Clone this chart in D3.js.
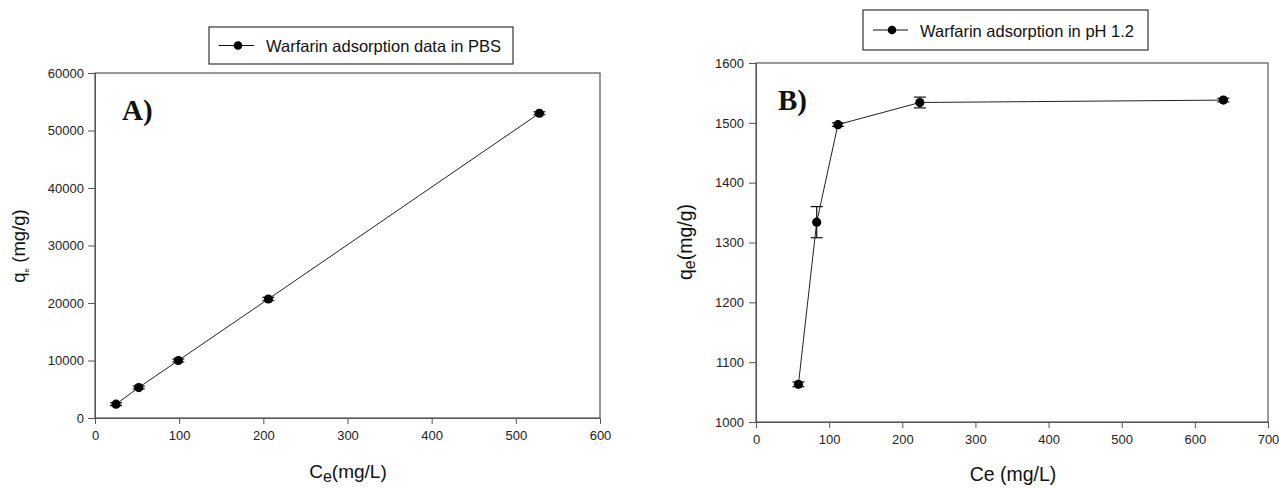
<!doctype html>
<html>
<head>
<script src="https://cdnjs.cloudflare.com/ajax/libs/d3/7.8.5/d3.min.js"></script>
<style>
  body { margin: 0; background: #fff; }
  svg { display: block; }
  .tick text { font-family: Arial, "Liberation Sans", sans-serif; font-size: 13px; fill: #222; }
  .lbl { font-family: Arial, "Liberation Sans", sans-serif; fill: #111; }
</style>
</head>
<body>
<svg id="chart" width="1279" height="488"></svg>
<script>
// panel A - PBS
var ceA = [25, 52, 99, 206, 528];
var qeA = [2400, 5300, 10000, 20700, 53000];
var errA = [250, 250, 250, 300, 250];
var xTicksA = [0, 100, 200, 300, 400, 500, 600];
var yTicksA = [0, 10000, 20000, 30000, 40000, 50000, 60000];

// panel B - pH 1.2
var ceB = [58, 83, 112, 224, 639];
var qeB = [1063, 1334, 1497, 1534, 1538];
var errB = [4, 26, 3, 9, 3];
var xTicksB = [0, 100, 200, 300, 400, 500, 600, 700];
var yTicksB = [1000, 1100, 1200, 1300, 1400, 1500, 1600];

var svg = d3.select("#chart");
svg.append("rect").attr("width", 1279).attr("height", 488).attr("fill", "#fff");

function panel(opt) {
    var x = d3.scaleLinear().domain(opt.xdom).range([opt.left, opt.right]);
    var y = d3.scaleLinear().domain(opt.ydom).range([opt.bottom, opt.top]);
    var g = svg.append("g");

    g.append("g")
        .attr("transform", "translate(0," + opt.bottom + ")")
        .call(d3.axisBottom(x).tickValues(opt.xticks).tickSize(6).tickSizeOuter(0).tickPadding(7).tickFormat(d3.format("d")));
    g.append("g")
        .attr("transform", "translate(" + opt.left + ",0)")
        .call(d3.axisLeft(y).tickValues(opt.yticks).tickSize(7).tickSizeOuter(0).tickPadding(opt.ypad).tickFormat(d3.format("d")));
    g.selectAll(".domain").attr("stroke", "#555");
    g.selectAll(".tick line").attr("stroke", "#555");

    // frame
    g.append("rect")
        .attr("x", opt.left).attr("y", opt.top)
        .attr("width", opt.right - opt.left).attr("height", opt.bottom - opt.top)
        .attr("fill", "none").attr("stroke", "#555").attr("stroke-width", 1.2);

    var pts = opt.xs.map(function(d, i) { return {x: d, y: opt.ys[i], e: opt.es[i]}; });

    g.append("path")
        .datum(pts)
        .attr("fill", "none").attr("stroke", "#222").attr("stroke-width", 1)
        .attr("d", d3.line().x(function(d) { return x(d.x); }).y(function(d) { return y(d.y); }));

    // error bars
    var eb = g.append("g").attr("stroke", "#111").attr("stroke-width", 1.2);
    pts.forEach(function(d) {
        var cx = x(d.x);
        eb.append("line").attr("x1", cx).attr("x2", cx).attr("y1", y(d.y - d.e)).attr("y2", y(d.y + d.e));
        eb.append("line").attr("x1", cx - 6).attr("x2", cx + 6).attr("y1", y(d.y + d.e)).attr("y2", y(d.y + d.e));
        eb.append("line").attr("x1", cx - 6).attr("x2", cx + 6).attr("y1", y(d.y - d.e)).attr("y2", y(d.y - d.e));
    });

    g.selectAll("circle.pt")
        .data(pts)
        .enter().append("circle")
        .attr("class", "pt")
        .attr("cx", function(d) { return x(d.x); })
        .attr("cy", function(d) { return y(d.y); })
        .attr("r", 4.6)
        .attr("fill", "#000");

    // panel letter
    g.append("text")
        .attr("x", opt.tagX).attr("y", opt.tagY)
        .attr("font-family", "'Times New Roman', 'Liberation Serif', serif")
        .attr("font-weight", "bold").attr("font-size", 29)
        .attr("fill", "#111")
        .text(opt.tag);

    // legend
    var lg = g.append("g");
    lg.append("rect")
        .attr("x", opt.lgX).attr("y", opt.lgY).attr("width", opt.lgW).attr("height", opt.lgH)
        .attr("fill", "#fff").attr("stroke", "#333").attr("stroke-width", 1.2);
    var my = opt.lgY + opt.lgH / 2;
    lg.append("line")
        .attr("x1", opt.lgX + 10).attr("x2", opt.lgX + 45).attr("y1", my).attr("y2", my)
        .attr("stroke", "#111").attr("stroke-width", 1.2);
    lg.append("circle").attr("cx", opt.lgX + 29).attr("cy", my).attr("r", 4.3).attr("fill", "#000");
    lg.append("text")
        .attr("class", "lbl")
        .attr("x", opt.lgX + 57).attr("y", my + 6.5)
        .attr("font-size", 16.5)
        .text(opt.legend);
    return g;
}

var gA = panel({
    xdom: [0, 600], ydom: [0, 60000],
    left: 95, right: 600, top: 73, bottom: 418,
    xticks: xTicksA, yticks: yTicksA, ypad: 4,
    xs: ceA, ys: qeA, es: errA,
    tag: "A)", tagX: 122, tagY: 120,
    legend: "Warfarin adsorption data in PBS",
    lgX: 209, lgY: 27, lgW: 304, lgH: 37
});

var gB = panel({
    xdom: [0, 700], ydom: [1000, 1600],
    left: 756, right: 1268, top: 63, bottom: 422,
    xticks: xTicksB, yticks: yTicksB, ypad: 5,
    xs: ceB, ys: qeB, es: errB,
    tag: "B)", tagX: 778, tagY: 110,
    legend: "Warfarin adsorption in pH 1.2",
    lgX: 863, lgY: 10, lgW: 285, lgH: 40
});

// axis titles - panel A
var ya = gA.append("text").attr("class", "lbl")
    .attr("transform", "translate(25,246) rotate(-90)")
    .attr("text-anchor", "middle").attr("font-size", 18.5);
ya.append("tspan").text("q");
ya.append("tspan").attr("font-size", 8).attr("dy", 4).text("e");
ya.append("tspan").attr("dy", -4).text(" (mg/g)");

var xa = gA.append("text").attr("class", "lbl")
    .attr("x", 348).attr("y", 478)
    .attr("text-anchor", "middle").attr("font-size", 19);
xa.append("tspan").text("C");
xa.append("tspan").attr("font-size", 16).attr("dy", 4).text("e");
xa.append("tspan").attr("dy", -4).text("(mg/L)");

// axis titles - panel B
var yb = gB.append("text").attr("class", "lbl")
    .attr("transform", "translate(692,242) rotate(-90)")
    .attr("text-anchor", "middle").attr("font-size", 19.5);
yb.append("tspan").text("q");
yb.append("tspan").attr("font-size", 16).attr("dy", 3).text("e");
yb.append("tspan").attr("dy", -3).text("(mg/g)");

gB.append("text").attr("class", "lbl")
    .attr("x", 1013).attr("y", 481)
    .attr("text-anchor", "middle").attr("font-size", 19.5)
    .text("Ce (mg/L)");
</script>
</body>
</html>
